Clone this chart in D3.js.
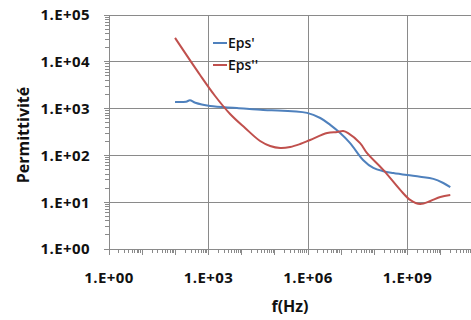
<!DOCTYPE html>
<html><head><meta charset="utf-8">
<script src="https://cdn.jsdelivr.net/npm/d3@7/dist/d3.min.js"></script>
<style>
html,body{margin:0;padding:0;background:#fff;}
svg{display:block;}
text{font-family:"Open Sans",sans-serif;fill:#111;}
</style></head>
<body>
<svg id="chart" width="471" height="320"></svg>
<script>
// Data (frequency in Hz, permittivity)
const epsPrimeFreq = [98, 210, 275, 400, 1120, 7200, 44700, 80000, 933000, 2340000, 4680000, 9330000, 18600000, 45700000, 93300000, 186000000, 372000000, 977000000, 2400000000, 6030000000, 12000000000, 19500000000];
const epsPrimeVal  = [1380, 1400, 1500, 1330, 1140, 1030, 930, 920, 810, 630, 450, 300, 183, 80, 54, 46, 42, 38, 35, 31.5, 25.7, 21];

const epsSecFreq = [98, 557, 1580, 4480, 12700, 36000, 72100, 145000, 290000, 581000, 1160000, 3800000, 7590000, 11500000, 16200000, 37200000, 60300000, 186000000, 603000000, 1200000000, 2400000000, 4900000000, 9770000000, 19500000000];
const epsSecVal  = [32400, 5220, 1860, 767, 385, 203, 159, 144, 151, 175, 213, 300, 316, 331, 300, 183, 112, 49, 18.3, 11.2, 9.1, 10.6, 12.9, 14.2];

const seriesNames = ["Eps'", "Eps''"];
const seriesColors = ["#4f81bd", "#c0504d"];
const xMajorTicks = [1, 1e3, 1e6, 1e9];
const yMajorTicks = [1, 10, 100, 1e3, 1e4, 1e5];
const xTickLabels = ["1.E+00", "1.E+03", "1.E+06", "1.E+09"];
const yTickLabels = ["1.E+00", "1.E+01", "1.E+02", "1.E+03", "1.E+04", "1.E+05"];
const xTitle = "f(Hz)";
const yTitle = "Permittivité";

const svg = d3.select("#chart");
const W = 471, H = 320;
const L = 109, T = 15, B = 249, Rr = 507;

const x = d3.scaleLog().domain([1, 1e12]).range([L, Rr]);
const y = d3.scaleLog().domain([1, 1e5]).range([B, T]);

const gridColor = "#8a8a8a";

// minor tick values
const xMinor = [], yMinor = [];
for (let e = 0; e < 12; e++) for (let k = 2; k <= 9; k++) xMinor.push(k * Math.pow(10, e));
for (let e = 0; e < 5; e++) for (let k = 2; k <= 9; k++) yMinor.push(k * Math.pow(10, e));
const xDecades = d3.range(0, 12).map(e => Math.pow(10, e));

// gridlines
svg.append("g").selectAll("line.hg").data(yMajorTicks).join("line")
  .attr("x1", L).attr("x2", W).attr("y1", d => y(d)).attr("y2", d => y(d))
  .attr("stroke", gridColor).attr("stroke-width", 1).attr("shape-rendering", "crispEdges");
svg.append("g").selectAll("line.vg").data(xMajorTicks).join("line")
  .attr("x1", d => x(d)).attr("x2", d => x(d)).attr("y1", T).attr("y2", B)
  .attr("stroke", gridColor).attr("stroke-width", 1).attr("shape-rendering", "crispEdges");

// minor ticks
svg.append("g").selectAll("line").data(yMinor).join("line")
  .attr("x1", L - 4).attr("x2", L).attr("y1", d => y(d)).attr("y2", d => y(d))
  .attr("stroke", gridColor).attr("stroke-width", 1).attr("shape-rendering", "crispEdges");
svg.append("g").selectAll("line").data(yMajorTicks).join("line")
  .attr("x1", L - 5).attr("x2", L).attr("y1", d => y(d)).attr("y2", d => y(d))
  .attr("stroke", gridColor).attr("stroke-width", 1).attr("shape-rendering", "crispEdges");
svg.append("g").selectAll("line").data(xMinor.filter(d => x(d) <= W)).join("line")
  .attr("x1", d => x(d)).attr("x2", d => x(d)).attr("y1", B).attr("y2", B + 4)
  .attr("stroke", gridColor).attr("stroke-width", 1).attr("shape-rendering", "crispEdges");
svg.append("g").selectAll("line").data(xDecades.filter(d => x(d) <= W)).join("line")
  .attr("x1", d => x(d)).attr("x2", d => x(d)).attr("y1", B).attr("y2", B + 6)
  .attr("stroke", gridColor).attr("stroke-width", 1).attr("shape-rendering", "crispEdges");

// tick labels
svg.append("g").selectAll("text").data(yMajorTicks).join("text")
  .attr("x", 90).attr("y", d => y(d)).attr("dy", "0.36em")
  .attr("text-anchor", "end").attr("font-size", 15).attr("font-weight", 700)
  .attr("letter-spacing", "0.4px")
  .text((d, i) => yTickLabels[i]);
svg.append("g").selectAll("text").data(xMajorTicks).join("text")
  .attr("x", d => x(d)).attr("y", 283)
  .attr("text-anchor", "middle").attr("font-size", 15).attr("font-weight", 700)
  .attr("letter-spacing", "0.4px")
  .text((d, i) => xTickLabels[i]);

// axis titles
svg.append("text").attr("x", 290).attr("y", 312).attr("text-anchor", "middle")
  .attr("font-size", 16).attr("font-weight", 700).text(xTitle);
svg.append("text").attr("transform", "translate(29,135) rotate(-90)").attr("text-anchor", "middle")
  .attr("font-size", 16).attr("font-weight", 700).text(yTitle);

// series
const line = d3.line().x(d => x(d[0])).y(d => y(d[1])).curve(d3.curveCatmullRom.alpha(0.5));
const series = [
  d3.zip(epsPrimeFreq, epsPrimeVal),
  d3.zip(epsSecFreq, epsSecVal)
];
svg.append("g").selectAll("path").data(series).join("path")
  .attr("d", line).attr("fill", "none")
  .attr("stroke", (d, i) => seriesColors[i]).attr("stroke-width", 2);

// legend
const lg = svg.append("g");
seriesNames.forEach((n, i) => {
  const yy = 43 + i * 22;
  lg.append("line").attr("x1", 213).attr("x2", 227).attr("y1", yy).attr("y2", yy)
    .attr("stroke", seriesColors[i]).attr("stroke-width", 2);
  lg.append("text").attr("x", 228).attr("y", yy).attr("dy", "0.36em")
    .attr("font-size", 14).attr("font-weight", 600).text(n);
});
</script>
</body></html>
